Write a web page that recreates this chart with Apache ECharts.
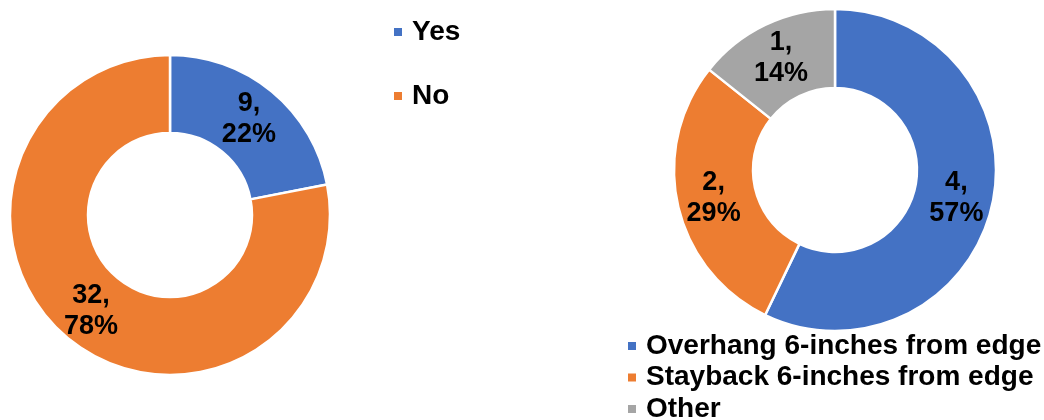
<!DOCTYPE html>
<html>
<head>
<meta charset="utf-8">
<script src="https://cdn.jsdelivr.net/npm/echarts@6/dist/echarts.min.js"></script>
<style>
  html, body { margin: 0; padding: 0; background: #fff; }
  #chart { width: 1044px; height: 420px; }
</style>
</head>
<body>
<div id="chart"></div>
<script>
// Survey answers: left donut
const answerNames = ['Yes', 'No'];
const answerCounts = [9, 32];

// Placement method: right donut
const methodNames = ['Overhang 6-inches from edge', 'Stayback 6-inches from edge', 'Other'];
const methodCounts = [4, 2, 1];

const palette = ['#4472C4', '#ED7D31', '#A5A5A5'];
const FONT = '"Liberation Sans", Arial, sans-serif';

function toData(names, values) {
  return names.map((n, i) => ({ name: n, value: values[i], itemStyle: { color: palette[i] } }));
}

const labelStyle = {
  show: true,
  position: 'inside',
  formatter: '{c},\n{d}%',
  color: '#000',
  fontFamily: FONT,
  fontWeight: 'bold',
  fontSize: 27,
  lineHeight: 31
};

const legendText = {
  color: '#000',
  fontFamily: FONT,
  fontWeight: 'bold',
  fontSize: 28,
  lineHeight: 22,
  padding: [0, 0, 0, 4]
};

function legendBox(names, left, top, gap) {
  return {
    data: names,
    orient: 'vertical',
    left: left,
    top: top,
    padding: 0,
    itemGap: gap,
    icon: 'rect',
    itemWidth: 10,
    itemHeight: 10,
    textStyle: legendText,
    selectedMode: false
  };
}

// Right-hand legend rows stacked under the second donut, one box per row
const methodLegends = methodNames.map((n, i) => legendBox([n], 626, 332 + i * 31.5, 0));

const chart = echarts.init(document.getElementById('chart'), null, { renderer: 'canvas' });
chart.setOption({
  animation: false,
  backgroundColor: '#fff',
  legend: [legendBox(answerNames, 392, 18, 36)].concat(methodLegends),
  series: [
    {
      type: 'pie',
      center: [170, 215],
      radius: [82, 160],
      startAngle: 90,
      clockwise: true,
      percentPrecision: 0,
      avoidLabelOverlap: false,
      itemStyle: { borderColor: '#fff', borderWidth: 2.5 },
      label: labelStyle,
      labelLine: { show: false },
      emphasis: { disabled: true },
      data: toData(answerNames, answerCounts)
    },
    {
      type: 'pie',
      center: [835, 170],
      radius: [82, 161],
      startAngle: 90,
      clockwise: true,
      percentPrecision: 0,
      avoidLabelOverlap: false,
      itemStyle: { borderColor: '#fff', borderWidth: 2.5 },
      label: labelStyle,
      labelLine: { show: false },
      emphasis: { disabled: true },
      data: toData(methodNames, methodCounts)
    }
  ]
});
</script>
</body>
</html>
